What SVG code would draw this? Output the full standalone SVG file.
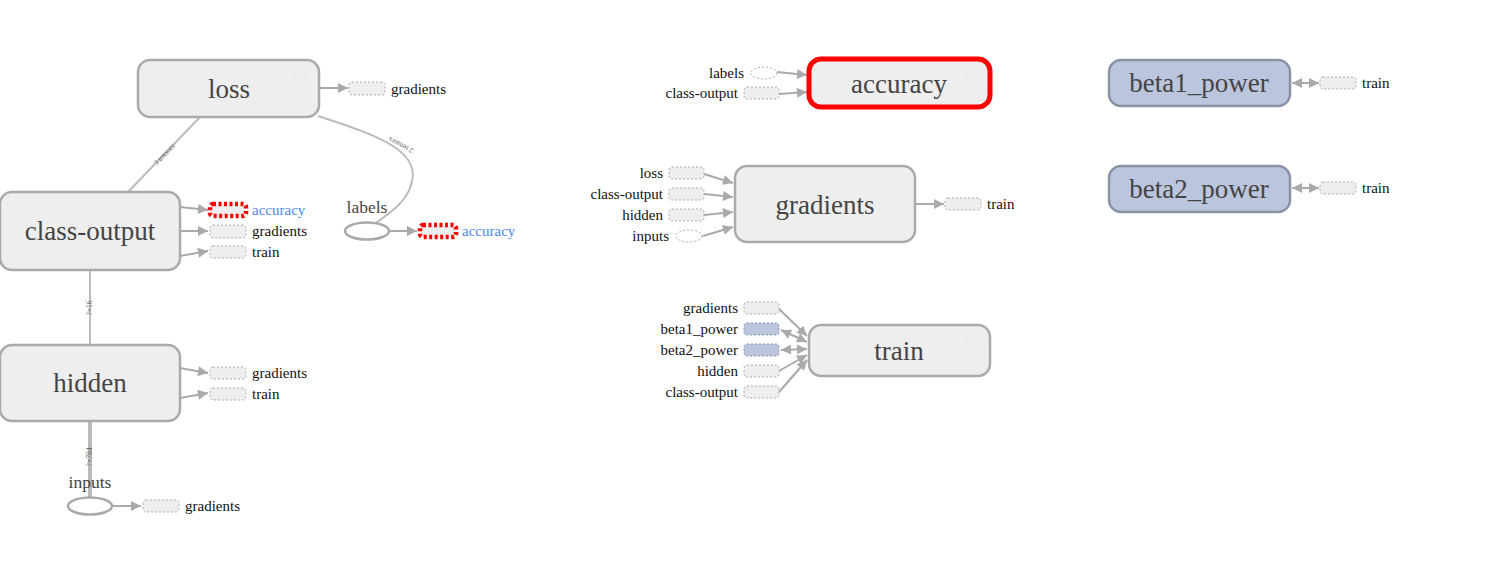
<svg xmlns="http://www.w3.org/2000/svg" width="1512" height="576" viewBox="0 0 1512 576">
<style>
text{font-family:"Liberation Serif","Times New Roman",Tinos,"DejaVu Serif",serif}
.node{fill:#eeeeee;stroke:#aaaaaa;stroke-width:2.5}
.var{fill:#bbc5dd;stroke:#8a93a6;stroke-width:2.5}
.big{font-size:27px;fill:#444;text-anchor:middle}
.sm{font-size:15px;fill:#111}
.smr{font-size:15px;fill:#111;text-anchor:end}
.blue{font-size:15px;fill:#4d8ae8}
.nl{font-size:17.5px;fill:#444;text-anchor:middle}
.el{font-size:7.5px;fill:#666;text-anchor:middle}
.stub{fill:#eeeeee;stroke:#aaaaaa;stroke-width:1;stroke-dasharray:2,2}
.stubv{fill:#bbc5dd;stroke:#8a93a6;stroke-width:1;stroke-dasharray:2,2}
.red{fill:#eeeeee;stroke:#ff0000;stroke-width:4.5;stroke-dasharray:3,2.5}
.e{fill:none;stroke:#aaaaaa;stroke-width:2;marker-end:url(#arr)}
.ed{fill:none;stroke:#aaaaaa;stroke-width:2;marker-end:url(#arr);marker-start:url(#arr2)}
.en{fill:none;stroke:#bbbbbb;stroke-width:2}
.btn{fill:none;stroke:#eaeaea;stroke-width:1}
</style>
<defs>
<marker id="arr" viewBox="0 0 10 10" refX="10" refY="5" markerWidth="12" markerHeight="10" markerUnits="userSpaceOnUse" orient="auto"><path d="M0,0 L10,5 L0,10 z" fill="#aaaaaa"/></marker>
<marker id="arr2" viewBox="0 0 10 10" refX="10" refY="5" markerWidth="12" markerHeight="10" markerUnits="userSpaceOnUse" orient="auto-start-reverse"><path d="M0,0 L10,5 L0,10 z" fill="#aaaaaa"/></marker>
</defs>
<rect width="1512" height="576" fill="#ffffff"/>

<g id="connectors">
<line class="en" x1="200" y1="117" x2="128" y2="192"/>
<text class="el" transform="translate(166,156) rotate(-47)">3 tensors</text>
<path class="en" d="M318,116 C380,136 425,152 410,188 C404,204 388,214 376,223"/>
<text class="el" transform="translate(402,143) rotate(208)">2 tensors</text>
<line class="en" x1="90" y1="270" x2="90" y2="345"/>
<text class="el" transform="translate(92,308) rotate(-90)">?×16</text>
<line class="en" x1="90" y1="421" x2="90" y2="497" style="stroke-width:4"/>
<text class="el" transform="translate(92,457) rotate(-90)">?×784</text>

<line class="e" x1="319" y1="88" x2="348" y2="88"/>
<line class="e" x1="180" y1="207" x2="208" y2="210"/>
<line class="e" x1="180" y1="231" x2="208" y2="231"/>
<line class="e" x1="180" y1="256" x2="208" y2="251"/>
<line class="e" x1="389" y1="231" x2="417" y2="231"/>
<line class="e" x1="180" y1="368" x2="208" y2="373"/>
<line class="e" x1="180" y1="398" x2="208" y2="393"/>
<line class="e" x1="112" y1="506" x2="141" y2="506"/>

<line class="e" x1="777" y1="72" x2="807" y2="75"/>
<line class="e" x1="779" y1="94" x2="807" y2="92"/>

<line class="e" x1="704" y1="174" x2="733" y2="183"/>
<line class="e" x1="704" y1="194" x2="733" y2="197"/>
<line class="e" x1="704" y1="215" x2="733" y2="212"/>
<line class="e" x1="703" y1="236" x2="733" y2="227"/>
<line class="e" x1="915" y1="204" x2="944" y2="204"/>

<line class="e" x1="779" y1="309" x2="807" y2="336"/>
<line class="ed" x1="781" y1="330" x2="807" y2="342"/>
<line class="ed" x1="781" y1="350" x2="807" y2="349"/>
<line class="e" x1="779" y1="371" x2="807" y2="355"/>
<line class="e" x1="779" y1="392" x2="807" y2="360"/>

<line class="ed" x1="1292" y1="83" x2="1319" y2="83"/>
<line class="ed" x1="1292" y1="188" x2="1319" y2="188"/>
</g>

<g id="loss">
<rect class="node" x="138" y="60" width="181" height="57" rx="12"/>
<circle class="btn" cx="299" cy="76" r="6"/>
<text class="big" x="229" y="98">loss</text>
<rect class="stub" x="349" y="82" width="36" height="13" rx="3"/>
<text class="sm" x="391" y="94">gradients</text>
</g>

<g id="class-output">
<rect class="node" x="0" y="192" width="180" height="78" rx="12"/>
<circle class="btn" cx="163" cy="208" r="6"/>
<text class="big" x="90" y="240">class-output</text>
<rect class="red" x="210" y="204" width="36" height="12" rx="3"/>
<text class="blue" x="252" y="215">accuracy</text>
<rect class="stub" x="210" y="225" width="36" height="13" rx="3"/>
<text class="sm" x="252" y="236">gradients</text>
<rect class="stub" x="210" y="246" width="36" height="12" rx="3"/>
<text class="sm" x="252" y="257">train</text>
</g>

<g id="labels">
<ellipse cx="367" cy="231" rx="22" ry="8.5" fill="#ffffff" stroke="#aaaaaa" stroke-width="2.5"/>
<text class="nl" x="367" y="213">labels</text>
<rect class="red" x="420" y="225" width="36" height="12" rx="3"/>
<text class="blue" x="462" y="236">accuracy</text>
</g>

<g id="hidden">
<rect class="node" x="0" y="345" width="180" height="76" rx="12"/>
<circle class="btn" cx="163" cy="361" r="6"/>
<text class="big" x="90" y="392">hidden</text>
<rect class="stub" x="210" y="367" width="36" height="12" rx="3"/>
<text class="sm" x="252" y="378">gradients</text>
<rect class="stub" x="210" y="388" width="36" height="12" rx="3"/>
<text class="sm" x="252" y="399">train</text>
</g>

<g id="inputs">
<ellipse cx="90" cy="506" rx="22" ry="8.5" fill="#ffffff" stroke="#aaaaaa" stroke-width="2.5"/>
<text class="nl" x="90" y="488">inputs</text>
<rect class="stub" x="143" y="500" width="36" height="12" rx="3"/>
<text class="sm" x="185" y="511">gradients</text>
</g>

<g id="accuracy">
<rect x="809" y="59" width="181" height="48" rx="12" fill="#eeeeee" stroke="#ff0000" stroke-width="5"/>
<circle class="btn" cx="973" cy="75" r="6"/>
<text class="big" x="899" y="93">accuracy</text>
<ellipse cx="764" cy="73" rx="13" ry="6" fill="#ffffff" stroke="#aaaaaa" stroke-width="1" stroke-dasharray="2,2"/>
<text class="smr" x="744" y="78">labels</text>
<rect class="stub" x="744" y="87" width="35" height="12" rx="3"/>
<text class="smr" x="738" y="98">class-output</text>
</g>

<g id="gradients">
<rect class="node" x="735" y="166" width="180" height="76" rx="12"/>
<circle class="btn" cx="898" cy="182" r="6"/>
<text class="big" x="825" y="214">gradients</text>
<rect class="stub" x="669" y="167" width="35" height="12" rx="3"/>
<text class="smr" x="663" y="178">loss</text>
<rect class="stub" x="669" y="188" width="35" height="12" rx="3"/>
<text class="smr" x="663" y="199">class-output</text>
<rect class="stub" x="669" y="209" width="35" height="12" rx="3"/>
<text class="smr" x="663" y="220">hidden</text>
<ellipse cx="689" cy="236" rx="13" ry="6" fill="#ffffff" stroke="#aaaaaa" stroke-width="1" stroke-dasharray="2,2"/>
<text class="smr" x="669" y="241">inputs</text>
<rect class="stub" x="945" y="198" width="36" height="12" rx="3"/>
<text class="sm" x="987" y="209">train</text>
</g>

<g id="train">
<rect class="node" x="809" y="325" width="181" height="51" rx="12"/>
<circle class="btn" cx="973" cy="341" r="6"/>
<text class="big" x="899" y="360">train</text>
<rect class="stub" x="744" y="302" width="35" height="12" rx="3"/>
<text class="smr" x="738" y="313">gradients</text>
<rect class="stubv" x="744" y="323" width="35" height="12" rx="3"/>
<text class="smr" x="738" y="334">beta1_power</text>
<rect class="stubv" x="744" y="344" width="35" height="12" rx="3"/>
<text class="smr" x="738" y="355">beta2_power</text>
<rect class="stub" x="744" y="365" width="35" height="12" rx="3"/>
<text class="smr" x="738" y="376">hidden</text>
<rect class="stub" x="744" y="386" width="35" height="12" rx="3"/>
<text class="smr" x="738" y="397">class-output</text>
</g>

<g id="beta1_power">
<rect class="var" x="1109" y="60" width="181" height="46" rx="12"/>
<text class="big" x="1199" y="92">beta1_power</text>
<rect class="stub" x="1320" y="77" width="36" height="12" rx="3"/>
<text class="sm" x="1362" y="88">train</text>
</g>

<g id="beta2_power">
<rect class="var" x="1109" y="166" width="181" height="46" rx="12"/>
<text class="big" x="1199" y="198">beta2_power</text>
<rect class="stub" x="1320" y="182" width="36" height="12" rx="3"/>
<text class="sm" x="1362" y="193">train</text>
</g>
</svg>
